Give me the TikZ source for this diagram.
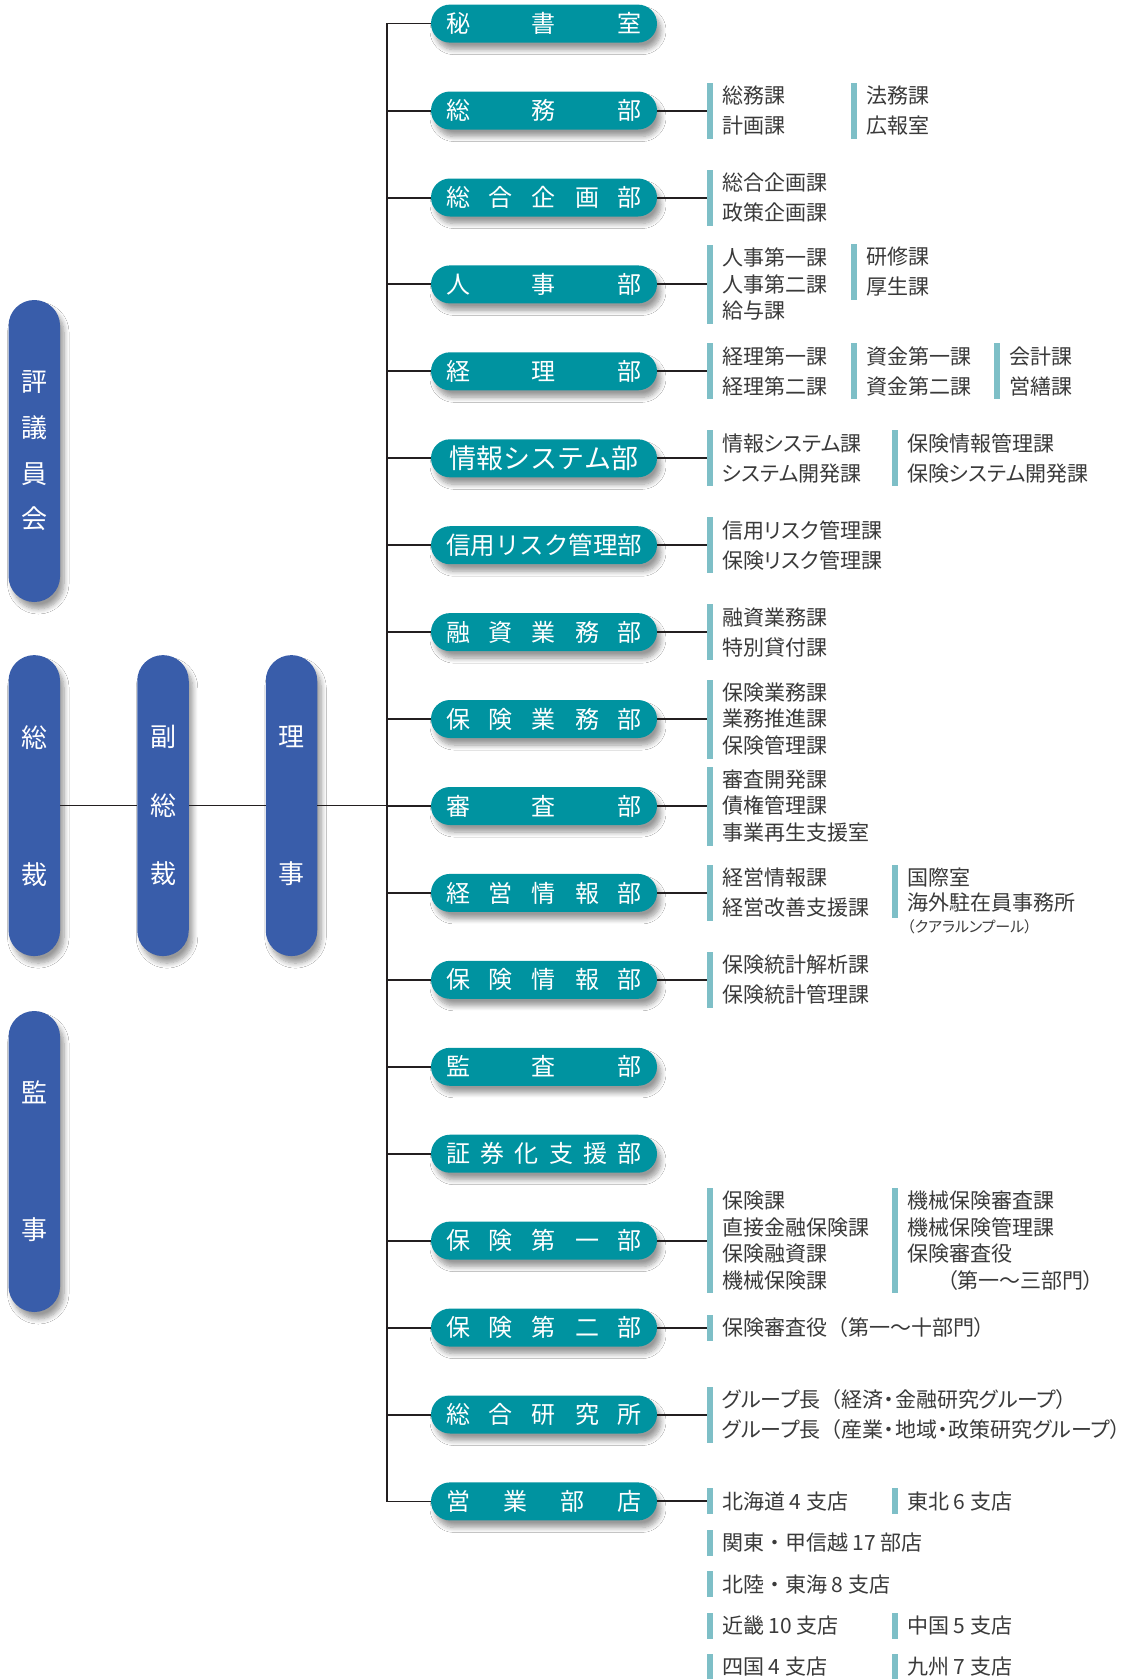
\documentclass[tikz,border=0pt]{standalone}
\usepackage{fontspec}
\usetikzlibrary{shadows.blur}
\newfontfamily\jp{Noto Sans CJK JP}
\newfontfamily\jpp{Noto Sans CJK JP}[RawFeature=+palt]
\newcommand\wdot{{\jp ・}}
\newcommand\ndot{\kern0.5pt ・\kern0.5pt}
\newcommand\wpar{{\jp （}}
\definecolor{tealc}{RGB}{0,147,160}
\definecolor{bluec}{RGB}{57,93,170}
\definecolor{barc}{RGB}{126,191,199}
\definecolor{txtc}{RGB}{58,58,58}
\definecolor{linec}{RGB}{35,31,32}
\tikzset{
  shd/.style={blur shadow={shadow xshift=4pt, shadow yshift=-7pt, shadow blur radius=5pt, shadow blur steps=8, shadow opacity=40}},
  dept/.style={shd, fill=tealc, rounded corners=19pt, minimum width=226pt, minimum height=38pt, inner sep=0pt, text=white, font=\jp\fontsize{24}{24}\selectfont},
  exec/.style={shd, fill=bluec, rounded corners=25.7pt, minimum width=51.5pt, inner sep=0pt, text=white, align=center, font=\jp\fontsize{26}{26}\selectfont},
  sub/.style={anchor=west, inner sep=0pt, text=txtc, align=left, font=\jpp\fontsize{21}{#1}\selectfont},
  conn/.style={draw=linec, line width=2pt},
  trunk/.style={draw=linec, line width=1.4pt},
}
\newcommand\deptnode[3]{\node[dept] (#1) at (544,#2) {\makebox[196pt]{#3}};}
\newcommand\grp[6]{%
  \fill[barc] (#2,{#3-(#5-1)*#4/2-13}) rectangle ({#2+6},{#3+(#5-1)*#4/2+13});
  \node[sub=#4] (#1) at ({#2+15},#3) {#6};
}
\begin{document}
\begin{tikzpicture}[x=1pt,y=-1pt]
\useasboundingbox (0,0) rectangle (1127,1679);
\fill[white] (0,0) rectangle (1127,1679);

% executive pills
\node[exec, minimum height=302pt] (hyo) at (34.3,451) {評\\[19.7pt]議\\[19.7pt]員\\[19.7pt]会};
\node[exec, minimum height=301pt] (sosai) at (34.3,805.6) {総\\[111pt]裁};
\node[exec, minimum height=301pt] (fuku) at (163,805.6) {副\\[42.5pt]総\\[42.5pt]裁};
\node[exec, minimum height=301pt] (riji) at (291.5,805.6) {理\\[111pt]事};
\node[exec, minimum height=301pt] (kanji) at (34.3,1161.5) {監\\[111pt]事};

% department pills
\deptnode{d0}{23.6}{秘\hfill 書\hfill 室}
\deptnode{d1}{110.5}{総\hfill 務\hfill 部}
\deptnode{d2}{197.5}{総\hfill 合\hfill 企\hfill 画\hfill 部}
\deptnode{d3}{284.4}{人\hfill 事\hfill 部}
\deptnode{d4}{371.3}{経\hfill 理\hfill 部}
\deptnode{d5}{458.3}{\fontsize{27}{27}\selectfont 情報システム部}
\deptnode{d6}{545.2}{\fontsize{24.5}{24.5}\selectfont 信用リスク管理部}
\deptnode{d7}{632.1}{融\hfill 資\hfill 業\hfill 務\hfill 部}
\deptnode{d8}{719.0}{保\hfill 険\hfill 業\hfill 務\hfill 部}
\deptnode{d9}{806.0}{審\hfill 査\hfill 部}
\deptnode{d10}{892.9}{経\hfill 営\hfill 情\hfill 報\hfill 部}
\deptnode{d11}{979.8}{保\hfill 険\hfill 情\hfill 報\hfill 部}
\deptnode{d12}{1066.8}{監\hfill 査\hfill 部}
\deptnode{d13}{1153.7}{証\hfill 券\hfill 化\hfill 支\hfill 援\hfill 部}
\deptnode{d14}{1240.6}{保\hfill 険\hfill 第\hfill 一\hfill 部}
\deptnode{d15}{1327.6}{保\hfill 険\hfill 第\hfill 二\hfill 部}
\deptnode{d16}{1414.5}{総\hfill 合\hfill 研\hfill 究\hfill 所}
\deptnode{d17}{1501.4}{営\hfill 業\hfill 部\hfill 店}

% connectors
\coordinate (tj) at (387,805.6);
\coordinate (barx) at (707,0);
\draw[trunk] (sosai.east) -- (fuku.west);
\draw[trunk] (fuku.east) -- (riji.west);
\draw[trunk] (riji.east) -- (tj);
\draw[trunk] (d0.west) -- (d0.west -| tj) -- (d17.west -| tj) -- (d17.west);
\foreach \i in {1,...,16} \draw[conn] (d\i.west) -- (d\i.west -| tj);
\foreach \i in {1,2,3,4,5,6,7,8,9,10,11,14,15,16,17} \draw[conn] (d\i.east) -- (d\i.east -| barx);

% sub-units
\grp{s1a}{707}{110.5}{30}{2}{総務課\\計画課}
\grp{s1b}{851}{110.5}{30}{2}{法務課\\広報室}
\grp{s2a}{707}{197.5}{30}{2}{総合企画課\\政策企画課}
\grp{s3a}{707}{284.4}{26.5}{3}{人事第一課\\人事第二課\\給与課}
\grp{s3b}{851}{271.9}{30}{2}{研修課\\厚生課}
\grp{s4a}{707}{371.3}{30}{2}{経理第一課\\経理第二課}
\grp{s4b}{851}{371.3}{30}{2}{資金第一課\\資金第二課}
\grp{s4c}{994}{371.3}{30}{2}{会計課\\営繕課}
\grp{s5a}{707}{458.3}{30}{2}{情報システム課\\システム開発課}
\grp{s5b}{892}{458.3}{30}{2}{保険情報管理課\\保険システム開発課}
\grp{s6a}{707}{545.2}{30}{2}{信用リスク管理課\\保険リスク管理課}
\grp{s7a}{707}{632.1}{30}{2}{融資業務課\\特別貸付課}
\grp{s8a}{707}{719.0}{26.5}{3}{保険業務課\\業務推進課\\保険管理課}
\grp{s9a}{707}{806.0}{26.5}{3}{審査開発課\\債権管理課\\事業再生支援室}
\grp{s10a}{707}{892.9}{30}{2}{経営情報課\\経営改善支援課}
\fill[barc] (892,865) rectangle (898,918);
\node[sub=25] (s10b) at (907,890.4) {国際室\\海外駐在員事務所};
\node[sub=15, font=\jpp\fontsize{15}{15}\selectfont] (s10c) at (907,927) {（クアラルンプール）};
\grp{s11a}{707}{979.8}{30}{2}{保険統計解析課\\保険統計管理課}
\grp{s14a}{707}{1240.6}{26.5}{4}{保険課\\直接金融保険課\\保険融資課\\機械保険課}
\grp{s14b}{892}{1240.6}{26.5}{4}{機械保険審査課\\機械保険管理課\\保険審査役\\\hspace*{40pt}（第一～三部門）}
\grp{s15a}{707}{1327.6}{30}{1}{保険審査役\wpar 第一～十部門）}
\grp{s16a}{707}{1414.5}{30}{2}{グループ長\wpar 経済\ndot 金融研究グループ）\\グループ長\wpar 産業\ndot 地域\ndot 政策研究グループ）}
\grp{s17a}{707}{1501.4}{30}{1}{北海道 4 支店}
\grp{s17b}{892}{1501.4}{30}{1}{東北 6 支店}
\grp{s17c}{707}{1542.8}{30}{1}{関東\wdot 甲信越 17 部店}
\grp{s17d}{707}{1584.2}{30}{1}{北陸\wdot 東海 8 支店}
\grp{s17e}{707}{1625.6}{30}{1}{近畿 10 支店}
\grp{s17f}{892}{1625.6}{30}{1}{中国 5 支店}
\grp{s17g}{707}{1667}{30}{1}{四国 4 支店}
\grp{s17h}{892}{1667}{30}{1}{九州 7 支店}
\end{tikzpicture}
\end{document}
